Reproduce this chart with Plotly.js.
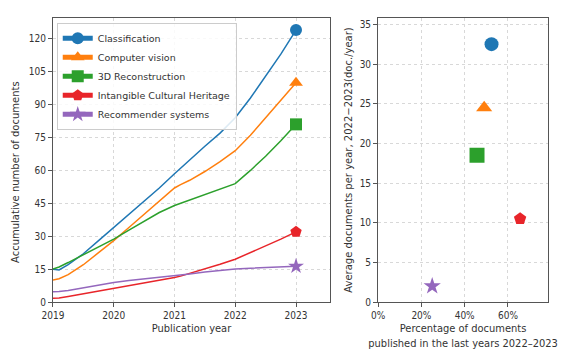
<!DOCTYPE html>
<html><head><meta charset="utf-8">
<script src="https://cdn.plot.ly/plotly-3.0.1.min.js"></script>
<style>html,body{margin:0;padding:0;background:#fff}#chart{width:579px;height:357px}</style>
</head><body><div id="chart"></div>
<script>
const years = [2019, 2019.1, 2019.25, 2019.5, 2019.75, 2020, 2020.25, 2020.5, 2020.75, 2021, 2021.1, 2021.25, 2021.5, 2021.75, 2022, 2022.25, 2022.5, 2022.75, 2023];
const seriesNames = ["Classification", "Computer vision", "3D Reconstruction", "Intangible Cultural Heritage", "Recommender systems"];
const classification = [15, 14.6, 17, 22, 28, 34, 40, 46, 52, 58.5, 61, 65, 71, 77, 84, 93, 103, 113, 124];
const computerVision = [10, 10.6, 12.5, 17, 22.5, 28, 34, 40, 46, 52, 53.5, 55.5, 59.5, 64, 69, 76, 84, 92, 100];
const reconstruction3D = [15, 16, 18, 21.5, 25, 28.7, 32.8, 37, 40.8, 44, 45, 46.5, 49, 51.5, 54, 60, 66.5, 73.5, 81];
const intangibleCH = [1.7, 1.8, 2.5, 3.7, 5, 6.2, 7.4, 8.6, 9.8, 11.2, 11.8, 13, 15, 17.2, 19.5, 22.5, 25.5, 28.7, 32];
const recommender = [4.7, 4.8, 5.3, 6.5, 7.8, 8.9, 9.8, 10.5, 11.2, 11.9, 12.2, 12.8, 13.7, 14.5, 15.1, 15.4, 15.7, 16, 16.3];
const pctLastYears = [0.524, 0.49, 0.457, 0.656, 0.25];
const avgPerYear = [32.5, 24.5, 18.5, 10.5, 2.0];
const xTickVals = [2019, 2020, 2021, 2022, 2023];
const yTickVals = [0, 15, 30, 45, 60, 75, 90, 105, 120];

const colors = ["#1f77b4", "#ff7f0e", "#2ca02c", "#e8252a", "#9467bd"];
const symbols = ["circle", "triangle-up", "square", "pentagon", "star"];
const endSizes = [12, 12, 12, 12, 12];
const scatterSizes = [14, 14, 15, 13, 13];
const allSeries = [classification, computerVision, reconstruction3D, intangibleCH, recommender];

const traces = [];
allSeries.forEach((vals, k) => {
  traces.push({
    x: years, y: vals, type: "scatter", mode: "lines+markers", name: seriesNames[k],
    xaxis: "x", yaxis: "y",
    line: {color: colors[k], width: 1.5},
    marker: {color: colors[k], symbol: symbols[k], opacity: 1,
      size: vals.map((v, i) => i === vals.length - 1 ? endSizes[k] : 0), line: {width: 0}},
    hoverinfo: "skip"
  });
});
pctLastYears.forEach((p, k) => {
  traces.push({
    x: [p], y: [avgPerYear[k]], type: "scatter", mode: "markers", name: seriesNames[k],
    xaxis: "x2", yaxis: "y2", showlegend: false,
    marker: {color: colors[k], symbol: symbols[k], size: scatterSizes[k], opacity: 1, line: {width: 0}}
  });
});

const COND = "'DejaVu Sans Condensed', 'Liberation Sans Narrow', 'DejaVu Sans', sans-serif";
const axisCommon = {
  showline: true, mirror: true, linecolor: "#555", linewidth: 1,
  ticks: "outside", ticklen: 4, tickcolor: "#555",
  showgrid: true, gridcolor: "#d8d8d8", griddash: "3px,3px", gridwidth: 1,
  zeroline: false, automargin: false
};
const tickFont = {family: COND, size: 10, color: "#333"};

const layout = {
  width: 579, height: 357,
  margin: {l: 0, r: 0, t: 0, b: 0},
  paper_bgcolor: "#fff", plot_bgcolor: "#fff",
  showlegend: true,
  legend: {x: 0.098, y: 0.936, xanchor: "left", yanchor: "top", bgcolor: "rgba(255,255,255,0.85)",
    bordercolor: "#ccc", borderwidth: 1, itemsizing: "constant",
    font: {family: "DejaVu Sans", size: 9.5, color: "#333"}, tracegroupgap: 0},
  xaxis: Object.assign({}, axisCommon, {domain: [0.0915, 0.570], range: [2019, 2023.56],
    tickvals: xTickVals, tickfont: tickFont, anchor: "y",
    title: {text: "Publication year", font: {family: COND, size: 11, color: "#333"}, standoff: 4}}),
  yaxis: Object.assign({}, axisCommon, {domain: [0.154, 0.9496], range: [0, 129.5],
    tickvals: yTickVals, tickfont: tickFont, anchor: "x"}),
  xaxis2: Object.assign({}, axisCommon, {domain: [0.653, 0.9465], range: [0, 0.785],
    tickvals: [0, 0.2, 0.4, 0.6], tickformat: ".0%", tickfont: tickFont, anchor: "y2",
    title: {text: "Percentage of documents<br>published in the last years 2022–2023", font: {family: COND, size: 11, color: "#333"}, standoff: 4}}),
  yaxis2: Object.assign({}, axisCommon, {domain: [0.154, 0.9496], range: [0, 35.8],
    tickvals: [0, 5, 10, 15, 20, 25, 30, 35], tickfont: tickFont, anchor: "x2",
    title: {text: "Average documents per year, 2022−2023(doc./year)", font: {family: "DejaVu Sans", size: 10, color: "#333"}, standoff: 5}}),
  annotations: [{
    text: "Accumulative number of documents", textangle: -90, showarrow: false,
    xref: "paper", yref: "paper", x: 16 / 579, y: (357 - 172) / 357, xanchor: "center", yanchor: "middle",
    font: {family: "DejaVu Sans", size: 10, color: "#333"}
  }]
};
Plotly.newPlot("chart", traces, layout, {staticPlot: true, displayModeBar: false});
</script></body></html>
